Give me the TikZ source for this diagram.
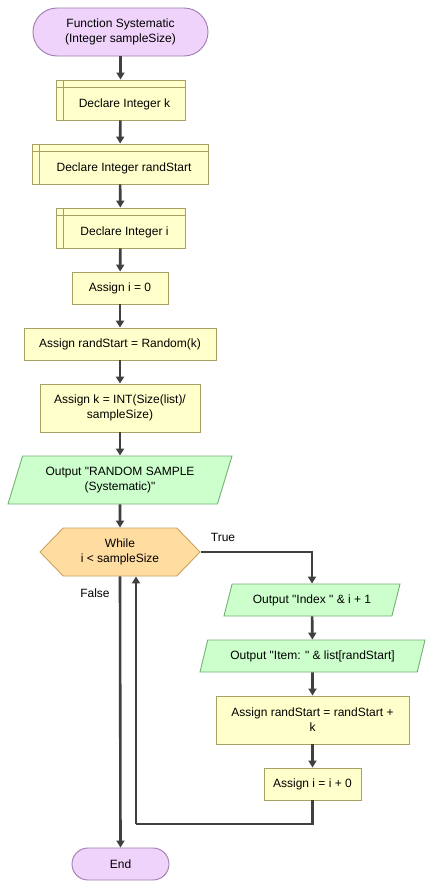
\documentclass[tikz,border=0pt]{standalone}
\usepackage{fontspec}
\newfontfamily\flowfont{Liberation Sans}
\usetikzlibrary{arrows.meta,shapes.geometric,shapes.symbols}
\definecolor{termfill}{HTML}{EFD3FB}
\definecolor{termdraw}{HTML}{A07CB4}
\definecolor{procfill}{HTML}{FFFFCC}
\definecolor{procdraw}{HTML}{A8A062}
\definecolor{outfill}{HTML}{CCFFCC}
\definecolor{outdraw}{HTML}{74B074}
\definecolor{loopfill}{HTML}{FFDDA0}
\definecolor{loopdraw}{HTML}{C8A464}
\definecolor{flow}{HTML}{404040}
\tikzset{
  base/.style={font=\flowfont\fontsize{12}{15}\selectfont, align=center, inner sep=2pt, line width=0.9pt},
  term/.style={base, draw=termdraw, fill=termfill, rounded corners=#1},
  proc/.style={base, draw=procdraw, fill=procfill, rectangle},
  decl/.style={proc, text height=17pt, text depth=3pt, execute at begin node=\hspace*{8pt}},
  outbox/.style={base, draw=outdraw, fill=outfill, trapezium, trapezium stretches body,
    trapezium left angle=#1, trapezium right angle=180-#1},
  loopbox/.style={base, draw=loopdraw, fill=loopfill, signal, signal to=west and east,
    signal pointer angle=92},
  flowline/.style={draw=flow, line width=2.6pt, -{Triangle[length=7pt,width=8pt]}},
  flowplain/.style={draw=flow, line width=2.6pt}
}
\begin{document}
\begin{tikzpicture}[x=1pt,y=-1pt]
    \useasboundingbox[fill=white] (0,0) rectangle (433,889);
    % main column
    \node[term=24pt, minimum width=175pt, minimum height=48pt] (start) at (120.5,32) {Function Systematic\\(Integer sampleSize)};
    \node[decl, minimum width=129pt, minimum height=40pt] (dk) at (120.5,100) {Declare Integer k};
    \node[decl, minimum width=176pt, minimum height=40pt] (drs) at (120,164) {Declare Integer randStart};
    \node[decl, minimum width=129pt, minimum height=40pt] (di) at (120.5,228) {Declare Integer i};
    \node[proc, minimum width=96pt, minimum height=32pt] (ai) at (120,288) {Assign i = 0};
    \node[proc, minimum width=192pt, minimum height=32pt] (ars) at (120,344) {Assign randStart = Random(k)};
    \node[proc, minimum width=160pt, minimum height=48pt] (ak) at (120,408) {Assign k = INT(Size(list)/\\sampleSize)};
    \node[outbox=64, minimum width=224pt, minimum height=48pt] (orand) at (120,480) {Output "RANDOM SAMPLE\\(Systematic)"};
    \node[loopbox, minimum width=160pt, minimum height=48pt] (wh) at (120,552) {While\\i < sampleSize};
    \node[term=16pt, minimum width=97pt, minimum height=32pt] (end) at (120.5,864) {End};
    % loop body
    \node[outbox=62, minimum width=176pt, minimum height=32pt] (oidx) at (312,600) {Output "Index " \& i + 1};
    \node[outbox=63, minimum width=225pt, minimum height=32pt] (oitem) at (312.5,656) {Output "Item: " \& list[randStart]};
    \node[proc, minimum width=193pt, minimum height=48pt] (ars2) at (312.5,720) {Assign randStart = randStart +\\k};
    \node[proc, minimum width=97pt, minimum height=32pt] (ai2) at (312.5,784) {Assign i = i + 0};
    \node[base, draw=none] (tru) at (223,537) {True};
    \node[base, draw=none] (fls) at (95,593) {False};
    \coordinate (back) at (136,824);
    % declare header lines
    \foreach \n in {dk,drs,di}{
        \draw[draw=procdraw, line width=0.9pt] ([xshift=8pt]\n.north west) -- ([xshift=8pt]\n.south west);
        \draw[draw=procdraw, line width=0.9pt] ([yshift=-8pt]\n.north west) -- ([yshift=-8pt]\n.north east);
    }
    % connectors
    \draw[flowline] (start) -- (dk);
    \draw[flowline] (dk) -- (drs);
    \draw[flowline] (drs) -- (di);
    \draw[flowline] (di) -- (ai);
    \draw[flowline] (ai) -- (ars);
    \draw[flowline] (ars) -- (ak);
    \draw[flowline] (ak) -- (orand);
    \draw[flowline] (orand) -- (wh);
    \draw[flowline] (wh.east) -| (oidx.north);
    \draw[flowline] (oidx) -- (oitem);
    \draw[flowline] (oitem) -- (ars2);
    \draw[flowline] (ars2) -- (ai2);
    \draw[flowplain] (ai2.south) |- (back);
    \draw[flowline] (back) -- (back |- wh.south);
    \draw[flowline] (wh.south) -- (end.north);
\end{tikzpicture}
\end{document}
